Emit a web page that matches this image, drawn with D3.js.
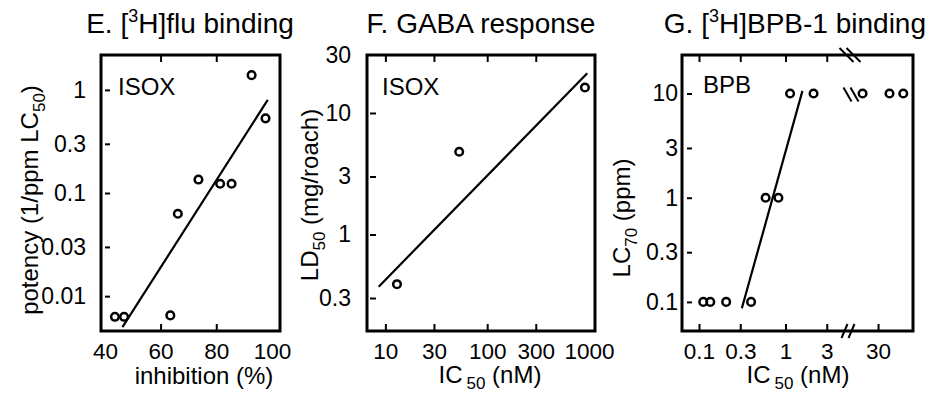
<!DOCTYPE html>
<html>
<head>
<meta charset="utf-8">
<script src="https://cdn.jsdelivr.net/npm/d3@7"></script>
<style>
  body { margin: 0; background: #fff; }
  svg { display: block; }
</style>
</head>
<body>
<svg id="chart" width="929" height="394"></svg>
<script>
// E. [3H]flu binding (ISOX)
const eInhibition = [43.6, 46.9, 63.5, 66.2, 73.6, 81.4, 85.5, 92.7, 97.7];
const ePotency    = [0.0063, 0.0063, 0.0065, 0.063, 0.135, 0.123, 0.123, 1.39, 0.53];
const eFitX = [46.3, 98.5];
const eFitY = [0.005, 0.80];
const eXTicks = [40, 60, 80, 100];
const eXTickMarks = [60, 80];
const eYTicks = [0.01, 0.03, 0.1, 0.3, 1];

// F. GABA response (ISOX)
const fIC50 = [13.0, 53.1, 912];
const fLD50 = [0.39, 4.8, 16.2];
const fFitX = [8.6, 961];
const fFitY = [0.372, 21.2];
const fXTicks = [10, 30, 100, 300, 1000];
const fXTickMarks = [10, 30, 100, 300];
const fYTicks = [0.3, 1, 3, 10, 30];
const fYTickMarks = [0.3, 1, 3, 10];

// G. [3H]BPB-1 binding (BPB), broken x axis
const gIC50 = [0.112, 0.135, 0.206, 0.40, 0.589, 0.828, 1.13, 2.11, 19.9, 40.7, 58.7];
const gLC70 = [0.1, 0.1, 0.1, 0.1, 1, 1, 10, 10, 10, 10, 10];
const gFitX = [0.313, 1.57];
const gFitY = [0.0868, 10.6];
const gXTicksLeft = [0.1, 0.3, 1, 3];
const gXTicksRight = [30];
const gYTicks = [0.1, 0.3, 1, 3, 10];

const FONT = '"Liberation Sans", Arial, Helvetica, sans-serif';
const svg = d3.select("#chart");

function styleAxis(g, fs) {
  g.select(".domain").remove();
  g.selectAll("text").attr("font-size", fs).attr("font-family", FONT).attr("fill", "#000");
  g.selectAll("line").attr("stroke", "#000").attr("stroke-width", 2);
}

function frame(x0, x1, y0, y1) {
  svg.append("rect")
    .attr("x", x0).attr("y", y0)
    .attr("width", x1 - x0).attr("height", y1 - y0)
    .attr("fill", "none").attr("stroke", "#000").attr("stroke-width", 3);
}

function points(xs, ys, xf, yf) {
  svg.append("g").selectAll("circle")
    .data(xs.map((d, i) => [d, ys[i]]))
    .enter().append("circle")
    .attr("cx", d => xf(d[0]))
    .attr("cy", d => yf(d[1]))
    .attr("r", 3.8)
    .attr("fill", "none")
    .attr("stroke", "#000")
    .attr("stroke-width", 2.5);
}

function fitLine(xs, ys, xf, yf) {
  svg.append("path")
    .datum(xs.map((d, i) => [d, ys[i]]))
    .attr("d", d3.line().x(d => xf(d[0])).y(d => yf(d[1])))
    .attr("fill", "none")
    .attr("stroke", "#000")
    .attr("stroke-width", 2.2);
}

function title(x, anchor, parts) {
  const t = svg.append("text")
    .attr("x", x).attr("y", 33)
    .attr("text-anchor", anchor)
    .attr("font-family", FONT).attr("font-size", 28);
  parts.forEach(p => {
    const s = t.append("tspan").text(p.t);
    if (p.sup) s.attr("font-size", 18).attr("dy", -11);
    if (p.back) s.attr("dy", 11);
  });
}

function xLabel(x, y) {
  const t = svg.append("text")
    .attr("x", x).attr("y", y)
    .attr("text-anchor", "middle")
    .attr("font-family", FONT).attr("font-size", 24);
  t.append("tspan").text("IC");
  t.append("tspan").text("50").attr("font-size", 17).attr("dx", 4).attr("dy", 6);
  t.append("tspan").text(" (nM)").attr("dy", -6);
}

function yLabel(x, y, pre, sub, post) {
  const t = svg.append("text")
    .attr("transform", "translate(" + x + "," + y + ") rotate(-90)")
    .attr("text-anchor", "middle")
    .attr("font-family", FONT).attr("font-size", 24);
  t.append("tspan").text(pre);
  t.append("tspan").text(sub).attr("font-size", 17).attr("dy", 7);
  t.append("tspan").text(post).attr("dy", -7);
}

function note(x, y, s) {
  svg.append("text").attr("x", x).attr("y", y)
    .attr("font-family", FONT).attr("font-size", 24).text(s);
}

// ---------- panel E ----------
const ex = d3.scaleLinear().domain([38.6, 102.9]).range([101, 280]);
const ey = d3.scaleLog().domain([0.00459, 2.18]).range([331, 55]);

svg.append("g").attr("transform", "translate(0,331)")
  .call(d3.axisBottom(ex).tickValues(eXTicks).tickFormat(String).tickSize(-7).tickPadding(12))
  .call(g => styleAxis(g, 22.5))
  .call(g => g.selectAll(".tick line").filter(d => !eXTickMarks.includes(d)).remove());
svg.append("g").attr("transform", "translate(0,55)")
  .call(d3.axisTop(ex).tickValues(eXTickMarks).tickFormat("").tickSize(-7))
  .call(g => styleAxis(g, 23));
svg.append("g").attr("transform", "translate(101,0)")
  .call(d3.axisLeft(ey).tickValues(eYTicks).tickFormat(String).tickSize(-9).tickPadding(15))
  .call(g => styleAxis(g, 23))
  .call(g => g.selectAll(".tick line").attr("x1", 4));

frame(101, 280, 55, 331);
fitLine(eFitX, eFitY, ex, ey);
points(eInhibition, ePotency, ex, ey);
note(118, 95, "ISOX");
title(190, "middle", [{t: "E. ["}, {t: "3", sup: true}, {t: "H]flu binding", back: true}]);
svg.append("text").attr("x", 204).attr("y", 384)
  .attr("text-anchor", "middle").attr("font-family", FONT).attr("font-size", 24)
  .text("inhibition (%)");
yLabel(38, 200, "potency (1/ppm LC", "50", ")");

// ---------- panel F ----------
const fx = d3.scaleLog().domain([6.6, 1145]).range([367, 595]);
const fy = d3.scaleLog().domain([0.1606, 30]).range([331, 55]);

svg.append("g").attr("transform", "translate(0,331)")
  .call(d3.axisBottom(fx).tickValues(fXTicks).tickFormat(String).tickSize(-7).tickPadding(12))
  .call(g => styleAxis(g, 22.5))
  .call(g => g.selectAll(".tick line").filter(d => !fXTickMarks.includes(d)).remove());
svg.append("g").attr("transform", "translate(0,55)")
  .call(d3.axisTop(fx).tickValues(fXTickMarks).tickFormat("").tickSize(-7))
  .call(g => styleAxis(g, 23));
svg.append("g").attr("transform", "translate(367,0)")
  .call(d3.axisLeft(fy).tickValues(fYTicks).tickFormat(String).tickSize(-9).tickPadding(16))
  .call(g => styleAxis(g, 23))
  .call(g => g.selectAll(".tick line").filter(d => !fYTickMarks.includes(d)).remove())
  .call(g => g.selectAll(".tick line").attr("x1", 3));

frame(367, 595, 55, 331);
fitLine(fFitX, fFitY, fx, fy);
points(fIC50, fLD50, fx, fy);
note(382, 95, "ISOX");
title(481, "middle", [{t: "F. GABA response"}]);
xLabel(490, 383);
yLabel(318, 195, "LD", "50", " (mg/roach)");

// ---------- panel G ----------
const gxL = d3.scaleLog().domain([0.0636, 5.28]).range([682, 848]);
const gxR = d3.scaleLog().domain([13.5, 76]).range([848, 913]);
const gx = v => (v < 10 ? gxL(v) : gxR(v));
const gy = d3.scaleLog().domain([0.0526, 23.4]).range([331, 55]);

svg.append("g").attr("transform", "translate(0,331)")
  .call(d3.axisBottom(gxL).tickValues(gXTicksLeft).tickFormat(String).tickSize(-7).tickPadding(12))
  .call(g => styleAxis(g, 22.5));
svg.append("g").attr("transform", "translate(0,331)")
  .call(d3.axisBottom(gxR).tickValues(gXTicksRight).tickFormat(String).tickSize(-7).tickPadding(12))
  .call(g => styleAxis(g, 22.5));
svg.append("g").attr("transform", "translate(0,55)")
  .call(d3.axisTop(gxL).tickValues(gXTicksLeft).tickFormat("").tickSize(-7))
  .call(g => styleAxis(g, 23));
svg.append("g").attr("transform", "translate(682,0)")
  .call(d3.axisLeft(gy).tickValues(gYTicks).tickFormat(String).tickSize(-10).tickPadding(4))
  .call(g => styleAxis(g, 23))
  .call(g => g.selectAll(".tick line").attr("x1", 5));

frame(682, 913, 55, 331);

// axis-break marks
const breakX = gxL.range()[1];
function breakMark(cx, cy, w, h) {
  [-3.5, 3.5].forEach(o => {
    svg.append("line")
      .attr("x1", cx + o - w / 2).attr("y1", cy - h / 2)
      .attr("x2", cx + o + w / 2).attr("y2", cy + h / 2)
      .attr("stroke", "#000").attr("stroke-width", 2);
  });
}
breakMark(breakX + 2, 55, 14, 14);
breakMark(breakX + 3, gy(10) + 1, 8, 14);
breakMark(breakX, 331, -6, 14);

fitLine(gFitX, gFitY, gx, gy);
points(gIC50, gLC70, gx, gy);
note(703, 93, "BPB");
title(926, "end", [{t: "G. ["}, {t: "3", sup: true}, {t: "H]BPB-1 binding", back: true}]);
xLabel(798, 383);
yLabel(630, 218, "LC", "70", " (ppm)");
</script>
</body>
</html>
